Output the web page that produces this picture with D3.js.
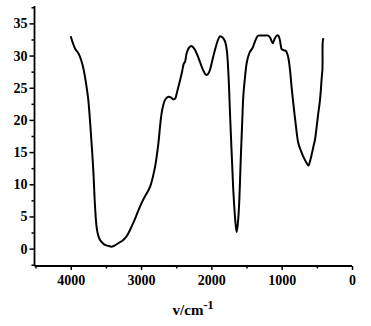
<!DOCTYPE html>
<html>
<head>
<meta charset="utf-8">
<script src="https://cdn.jsdelivr.net/npm/d3@7/dist/d3.min.js"></script>
<style>
  html, body { margin: 0; padding: 0; background: #fff; }
  svg { display: block; }
</style>
</head>
<body>
<svg id="chart" width="371" height="326"></svg>
<script>
// IR transmittance spectrum: wavenumber (cm^-1) vs transmittance
const wavenumber = [
  4000, 3939, 3900, 3868, 3830, 3797, 3770, 3750, 3716, 3679, 3654, 3630, 3605, 3583,
  3550, 3512, 3460, 3417, 3370, 3323, 3252, 3200, 3157, 3090, 3024, 2960, 2872, 2801,
  2753, 2725, 2700, 2659, 2612, 2575, 2541, 2515, 2493, 2460, 2422, 2390, 2375, 2351,
  2320, 2289, 2260, 2233, 2200, 2162, 2120, 2076, 2050, 2019, 1985, 1948, 1910, 1877,
  1840, 1806, 1780, 1759, 1749, 1735, 1711, 1690, 1674, 1655, 1640, 1624, 1607, 1579,
  1560, 1546, 1520, 1498, 1475, 1451, 1418, 1400, 1379, 1355, 1333, 1260, 1191, 1160,
  1128, 1100, 1070, 1048, 1030, 1010, 1000, 965, 939, 910, 882, 860, 835, 800,
  764, 730, 693, 650, 621, 590, 550, 525, 502, 480, 455, 431, 420, 417, 408
];
const transmittance = [
  33.0, 31.1, 30.5, 29.8, 28.5, 26.7, 24.8, 23.1, 18.4, 12.2, 6.5, 3.2, 1.9, 1.35,
  0.9, 0.57, 0.4, 0.31, 0.5, 0.84, 1.35, 2.0, 2.9, 4.5, 6.3, 7.8, 9.6, 12.7,
  16.4, 19.5, 21.5, 23.1, 23.6, 23.5, 23.2, 23.3, 24.1, 25.5, 27.2, 28.8, 29.0, 30.4,
  31.2, 31.5, 31.3, 30.9, 30.1, 29.0, 27.8, 27.0, 27.1, 27.8, 29.3, 30.9, 32.3, 33.0,
  32.8, 32.2, 30.8, 27.5, 25.2, 21.0, 14.8, 9.5, 6.5, 3.8, 2.6, 3.8, 6.5, 14.8,
  20.0, 23.6, 26.8, 28.8, 29.9, 30.6, 31.1, 31.6, 32.2, 32.8, 33.1, 33.1, 33.1, 32.7,
  31.9, 32.6, 33.1, 33.1, 32.6, 31.4, 31.0, 30.8, 30.7, 29.9, 27.8, 25.2, 22.6, 19.3,
  16.4, 15.3, 14.3, 13.4, 12.9, 13.9, 15.8, 17.0, 19.0, 21.0, 23.1, 26.5, 28.0, 32.0, 32.7
];

const xMajorTicks = [4000, 3000, 2000, 1000, 0];
const xMinorTicks = [4500, 3500, 2500, 1500, 500];
const yMajorTicks = [0, 5, 10, 15, 20, 25, 30, 35];
const yMinorTicks = [-2.5, 2.5, 7.5, 12.5, 17.5, 22.5, 27.5, 32.5, 37.5];

const svg = d3.select("#chart");

const x = d3.scaleLinear().domain([4515, 0]).range([34.5, 352]);
const y = d3.scaleLinear().domain([-2.7, 37.7]).range([266, 6]);

const fontFamily = '"Liberation Serif", "Times New Roman", serif';

// x axis: major ticks with labels, minor ticks without
const gx = svg.append("g").attr("transform", `translate(0,${y.range()[0]})`);
gx.call(d3.axisBottom(x).tickValues(xMajorTicks).tickSize(4).tickPadding(5).tickFormat(d3.format("d")));
gx.append("g").call(d3.axisBottom(x).tickValues(xMinorTicks).tickSize(2.5).tickFormat(""))
  .select(".domain").remove();

// y axis
const gy = svg.append("g").attr("transform", `translate(${x.range()[0]},0)`);
gy.call(d3.axisLeft(y).tickValues(yMajorTicks).tickSize(5).tickPadding(2).tickFormat(d3.format("d")));
gy.append("g").call(d3.axisLeft(y).tickValues(yMinorTicks).tickSize(3).tickFormat(""))
  .select(".domain").remove();

// plain axis lines without end caps
gx.select(".domain").attr("d", `M${x.range()[0]},0H${x.range()[1]}`);
gy.select(".domain").attr("d", `M0,${y.range()[1]}V${y.range()[0]}`);
svg.selectAll(".domain").attr("stroke", "#000").attr("stroke-width", 1.8);

svg.selectAll(".tick line").attr("stroke", "#000").attr("stroke-width", 1.5);
svg.selectAll(".tick text").attr("font-size", 14).attr("fill", "#000")
  .style("font-family", fontFamily).style("font-weight", "bold");

// spectrum line
const points = wavenumber.map((w, i) => [w, transmittance[i]]);
svg.append("path")
  .datum(points)
  .attr("fill", "none")
  .attr("stroke", "#000")
  .attr("stroke-width", 2)
  .attr("stroke-linejoin", "round")
  .attr("d", d3.line().x(d => x(d[0])).y(d => y(d[1])).curve(d3.curveCatmullRom.alpha(0.5)));

// axis title: v/cm^-1
const title = svg.append("text")
  .attr("x", 193).attr("y", 315)
  .attr("text-anchor", "middle")
  .style("font-family", fontFamily).style("font-weight", "bold")
  .attr("font-size", 15).attr("fill", "#000");
title.append("tspan").text("v/cm");
title.append("tspan").attr("dy", -6).attr("font-size", 12).text("-1");
</script>
</body>
</html>
